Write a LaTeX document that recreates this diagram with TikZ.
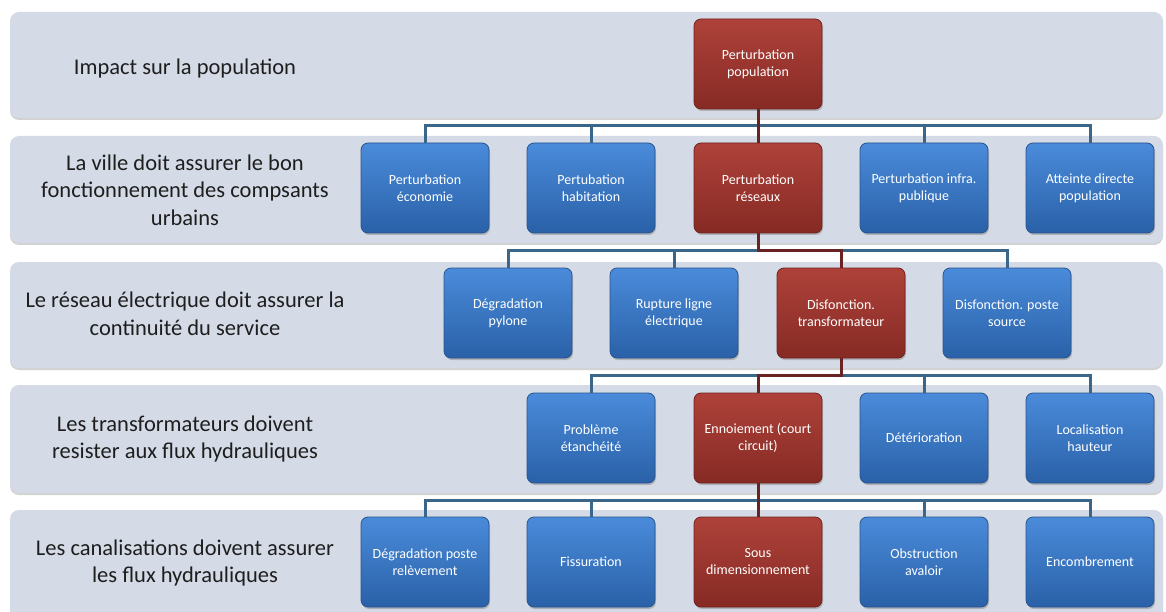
\documentclass[tikz,border=0pt]{standalone}
\usepackage{fontspec}
\setmainfont{Carlito}
\usetikzlibrary{shadows}
\definecolor{bandfill}{HTML}{D4DBE7}
\definecolor{labeltext}{HTML}{1E1E1E}
\definecolor{blueTop}{HTML}{4A8BDA}
\definecolor{blueBot}{HTML}{2A61A8}
\definecolor{blueBorder}{HTML}{28558F}
\definecolor{redTop}{HTML}{AE423A}
\definecolor{redBot}{HTML}{862A24}
\definecolor{redBorder}{HTML}{70211C}
\definecolor{busblue}{HTML}{3A6689}
\definecolor{redline}{HTML}{6A2323}
\begin{document}
\begin{tikzpicture}[x=1pt,y=-1pt,
  band/.style={fill=bandfill, rounded corners=9pt,
    drop shadow={opacity=0.35, shadow xshift=0pt, shadow yshift=-2pt}},
  lbl/.style={align=center, text=labeltext, font=\fontsize{22.5}{27.5}\selectfont},
  box/.style={rounded corners=7pt, minimum width=128pt, minimum height=90pt,
    align=center, text=white, font=\fontsize{14}{17}\selectfont, inner sep=2pt,
    line width=0.8pt,
    drop shadow={opacity=0.45, shadow xshift=1pt, shadow yshift=-2pt}},
  bluebox/.style={box, top color=blueTop, bottom color=blueBot, draw=blueBorder},
  redbox/.style={box, top color=redTop, bottom color=redBot, draw=redBorder},
  bus/.style={draw=busblue, line width=3pt},
  redpath/.style={draw=redline, line width=3pt}]
\useasboundingbox[fill=white] (0,0) rectangle (1166,612);
% bands
\path[band] (10,12) rectangle (1163,118);
\path[band] (10,136) rectangle (1163,243);
\path[band] (10,262) rectangle (1163,368);
\path[band] (10,385) rectangle (1163,493);
\path[band] (10,510) rectangle (1163,640);
% labels
\node[lbl] (l1) at (185,69) {Impact sur la population};
\node[lbl] (l2) at (185,190) {La ville doit assurer le bon\\fonctionnement des compsants\\urbains};
\node[lbl] (l3) at (185,314) {Le réseau électrique doit assurer la\\continuité du service};
\node[lbl] (l4) at (185,439) {Les transformateurs doivent\\resister aux flux hydrauliques};
\node[lbl] (l5) at (185,563) {Les canalisations doivent assurer\\les flux hydrauliques};
% bus levels
\coordinate (b2) at (0,126);
\coordinate (b3) at (0,250);
\coordinate (b4) at (0,375);
\coordinate (b5) at (0,500);
% row 1
\node[redbox] (p1) at (758,64) {Perturbation\\population};
% row 2
\node[bluebox] (p21) at (425,188) {Perturbation\\économie};
\node[bluebox] (p22) at (591,188) {Pertubation\\habitation};
\node[redbox]  (p23) at (758,188) {Perturbation\\réseaux};
\node[bluebox] (p24) at (924,188) {Perturbation infra.\\publique};
\node[bluebox] (p25) at (1090,188) {Atteinte directe\\population};
% row 3
\node[bluebox] (p31) at (508,313) {Dégradation\\pylone};
\node[bluebox] (p32) at (674,313) {Rupture ligne\\électrique};
\node[redbox]  (p33) at (841,313) {Disfonction.\\transformateur};
\node[bluebox] (p34) at (1007,313) {Disfonction. poste\\source};
% row 4
\node[bluebox] (p41) at (591,438) {Problème\\étanchéité};
\node[redbox]  (p42) at (758,438) {Ennoiement (court\\circuit)};
\node[bluebox] (p43) at (924,438) {Détérioration};
\node[bluebox] (p44) at (1090,438) {Localisation\\hauteur};
% row 5
\node[bluebox] (p51) at (425,562) {Dégradation poste\\relèvement};
\node[bluebox] (p52) at (591,562) {Fissuration};
\node[redbox]  (p53) at (758,562) {Sous\\dimensionnement};
\node[bluebox] (p54) at (924,562) {Obstruction\\avaloir};
\node[bluebox] (p55) at (1090,562) {Encombrement};
% connectors row 2
\draw[bus] (p21.north) -- (p21.north |- b2) -- (p25.north |- b2) -- (p25.north);
\draw[bus] (p22.north) -- (p22.north |- b2);
\draw[bus] (p24.north) -- (p24.north |- b2);
\draw[redpath] (p1.south) -- (p23.north);
% connectors row 3
\draw[bus] (p31.north) -- (p31.north |- b3) -- (p34.north |- b3) -- (p34.north);
\draw[bus] (p32.north) -- (p32.north |- b3);
\draw[redpath] (p23.south) -- (p23.south |- b3) -- (p33.north |- b3) -- (p33.north);
% connectors row 4
\draw[bus] (p41.north) -- (p41.north |- b4) -- (p44.north |- b4) -- (p44.north);
\draw[bus] (p43.north) -- (p43.north |- b4);
\draw[redpath] (p33.south) -- (p33.south |- b4) -- (p42.north |- b4) -- (p42.north);
% connectors row 5
\draw[bus] (p51.north) -- (p51.north |- b5) -- (p55.north |- b5) -- (p55.north);
\draw[bus] (p52.north) -- (p52.north |- b5);
\draw[bus] (p54.north) -- (p54.north |- b5);
\draw[redpath] (p42.south) -- (p53.north);
\end{tikzpicture}
\end{document}
